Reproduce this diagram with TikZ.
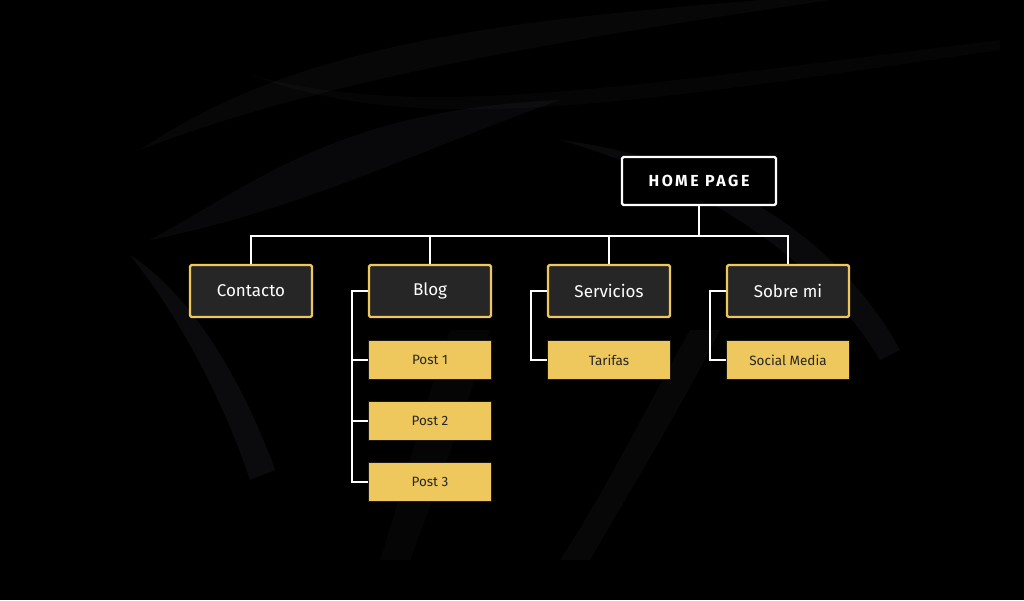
\documentclass[tikz,border=0pt]{standalone}
\usepackage{fontspec}
\setmainfont{Fira Sans}
\usepackage{tikz}
\usetikzlibrary{positioning, calc}
\definecolor{bgblack}{HTML}{000000}
\definecolor{boxgrey}{HTML}{262626}
\definecolor{mapyellow}{HTML}{EEC75D}
\definecolor{subedge}{HTML}{1C1A12}
\definecolor{swoosh}{HTML}{9098AA}
\tikzset{
  homebox/.style={draw=white, line width=2.2pt, fill=black, rounded corners=1.5pt,
    minimum width=154pt, minimum height=48pt, inner sep=0pt, text=white,
    font=\fontsize{16}{18}\selectfont\bfseries\addfontfeature{LetterSpace=16}},
  mainbox/.style={draw=mapyellow, line width=2.2pt, fill=boxgrey, rounded corners=1.5pt,
    minimum width=122pt, minimum height=52pt, inner sep=0pt, text=white,
    font=\fontsize{17}{20}\selectfont},
  subbox/.style={draw=subedge, line width=1pt, fill=mapyellow,
    minimum width=123pt, minimum height=39pt, inner sep=0pt, text=black!85,
    font=\fontsize{13.5}{16}\selectfont},
  mapline/.style={draw=white, line width=1.5pt},
  swooshfill/.style={fill=swoosh, opacity=#1},
}

\begin{document}
\begin{tikzpicture}[x=1pt,y=-1pt]
  % Hintergrund mit Schleiern
  \fill[bgblack] (0,0) rectangle (1024,600);
  \useasboundingbox (0,0) rectangle (1024,600);
  \fill[swooshfill=0.05] (140,150) .. controls (300,40) and (520,20) .. (760,0)
    -- (830,0) .. controls (560,40) and (320,80) .. (140,150) -- cycle;
  \fill[swooshfill=0.04] (250,75) .. controls (420,120) and (600,90) .. (1000,40)
    -- (1000,50) .. controls (600,108) and (420,136) .. (250,75) -- cycle;
  \fill[swooshfill=0.06] (150,240) .. controls (260,180) and (340,110) .. (560,100)
    .. controls (420,150) and (300,210) .. (150,240) -- cycle;
  \fill[swooshfill=0.08] (130,255) .. controls (190,330) and (230,420) .. (250,480)
    -- (275,470) .. controls (250,400) and (200,300) .. (130,255) -- cycle;
  \fill[swooshfill=0.07] (560,140) .. controls (720,160) and (840,240) .. (900,350)
    -- (880,360) .. controls (820,260) and (700,180) .. (560,140) -- cycle;
  \fill[swooshfill=0.05] (690,330) .. controls (640,420) and (600,500) .. (560,560)
    -- (590,560) .. controls (630,490) and (680,410) .. (720,330) -- cycle;
  \fill[swooshfill=0.04] (450,330) .. controls (420,420) and (400,500) .. (380,560)
    -- (410,560) .. controls (440,480) and (470,400) .. (490,330) -- cycle;

  % Seitenstruktur
  \node[homebox] (home) at (699,181) {HOME PAGE};
  \foreach \name/\xpos/\txt in {contacto/251/Contacto, blog/430/Blog,
      servicios/609/Servicios, sobremi/788/Sobre mi} {
    \node[mainbox] (\name) at (\xpos,291) {\txt};
  }
  \node[subbox] (post1) at (430,360) {Post 1};
  \node[subbox] (post2) at (430,421) {Post 2};
  \node[subbox] (post3) at (430,482) {Post 3};
  \node[subbox] (tarifas) at (609,360) {Tarifas};
  \node[subbox] (social) at (788,360) {Social Media};

  \draw[mapline] (home.south) -- ++(0,30) coordinate (bus);
  \foreach \name in {contacto, blog, servicios, sobremi} {
    \draw[mapline] (bus) -| (\name.north);
  }
  \draw[mapline] (blog.west) -- ++(-16,0) coordinate (blogx) |- (post3.west);
  \draw[mapline] (blogx) |- (post1.west);
  \draw[mapline] (blogx) |- (post2.west);
  \draw[mapline] (servicios.west) -- ++(-16,0) |- (tarifas.west);
  \draw[mapline] (sobremi.west) -- ++(-16,0) |- (social.west);
\end{tikzpicture}
\end{document}
